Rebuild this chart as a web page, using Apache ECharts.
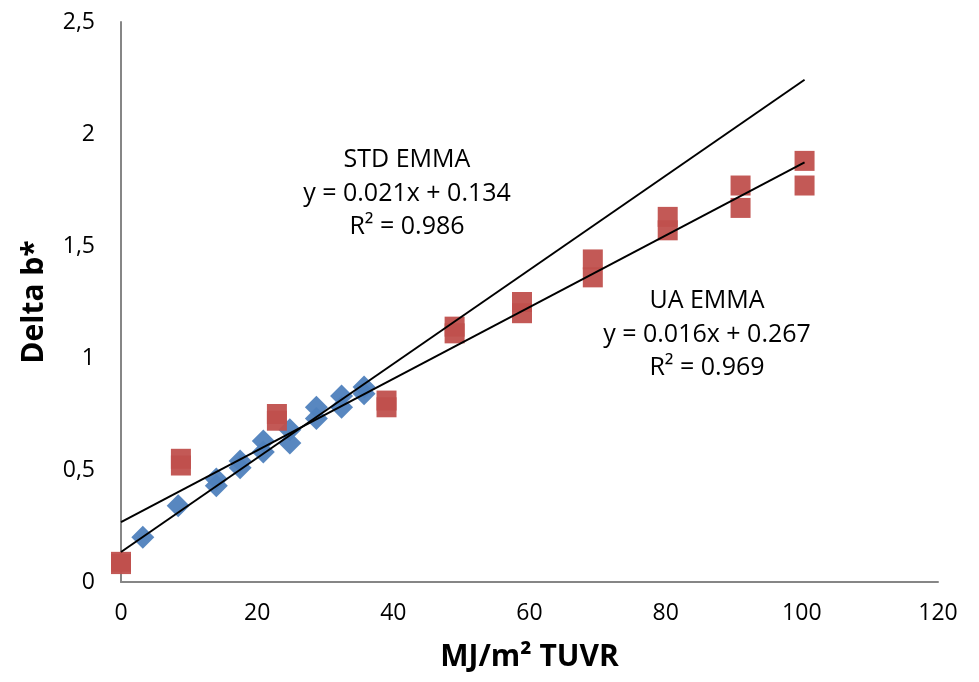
<!DOCTYPE html>
<html>
<head>
<meta charset="utf-8">
<script src="https://cdn.jsdelivr.net/npm/echarts@6/dist/echarts.min.js"></script>
<style>
  html, body { margin: 0; padding: 0; background: #fff; }
  #chart { width: 979px; height: 682px; }
</style>
</head>
<body>
<div id="chart"></div>
<script>
// STD EMMA (blue diamonds)
const stdX = [3.2, 8.4, 14.0, 14.0, 17.5, 17.5, 20.9, 20.9, 24.8, 24.8, 28.7, 28.7, 32.4, 32.4, 35.7, 35.7];
const stdY = [0.20, 0.34, 0.46, 0.43, 0.54, 0.51, 0.63, 0.58, 0.68, 0.62, 0.78, 0.73, 0.83, 0.78, 0.87, 0.84];

// UA EMMA (red squares)
const uaX = [0, 0, 8.8, 8.8, 22.9, 22.9, 39.0, 39.0, 49.0, 49.0, 58.9, 58.9, 69.3, 69.3, 80.3, 80.3, 91.0, 91.0, 100.4, 100.4];
const uaY = [0.09, 0.08, 0.55, 0.52, 0.75, 0.72, 0.81, 0.78, 1.14, 1.11, 1.25, 1.20, 1.44, 1.36, 1.63, 1.57, 1.77, 1.67, 1.88, 1.77];

// linear trend lines: [slope, intercept], drawn across trendRange
const stdFit = [0.021, 0.134];
const uaFit = [0.016, 0.267];
const trendRange = [0, 100.4];

const stdLabel = ['STD EMMA', 'y = 0.021x + 0.134', 'R² = 0.986'];
const uaLabel = ['UA EMMA', 'y = 0.016x + 0.267', 'R² = 0.969'];

const xTicks = [0, 20, 40, 60, 80, 100, 120];
const yTicks = [0, 0.5, 1, 1.5, 2, 2.5];

function pairs(xs, ys) {
  return xs.map(function (x, i) { return [x, ys[i]]; });
}
function trend(fit) {
  return trendRange.map(function (x) { return [x, fit[0] * x + fit[1]]; });
}

const font = '"Open Sans", "Noto Sans", sans-serif';

// block of centred text lines for the trend labels
function labelBlock(lines, cx, cy) {
  return lines.map(function (t, i) {
    return {
      type: 'text',
      x: cx,
      y: cy + i * 33.5,
      z: 10,
      style: { text: t, align: 'center', verticalAlign: 'middle', font: '25px ' + font, fill: '#000' }
    };
  });
}

const chart = echarts.init(document.getElementById('chart'));

chart.setOption({
  backgroundColor: '#fff',
  animation: false,
  textStyle: { fontFamily: font },
  grid: { left: 121, top: 22, right: 41, bottom: 100 },
  xAxis: {
    type: 'value',
    min: xTicks[0],
    max: xTicks[xTicks.length - 1],
    interval: 20,
    name: 'MJ/m² TUVR',
    nameLocation: 'middle',
    nameGap: 60,
    nameTextStyle: { fontSize: 30, fontWeight: 'bold', color: '#000', fontFamily: font },
    axisLine: { lineStyle: { color: '#868686', width: 2 } },
    axisTick: { show: false },
    splitLine: { show: false },
    axisLabel: { fontSize: 23, color: '#000', margin: 20, fontFamily: font }
  },
  yAxis: {
    type: 'value',
    min: yTicks[0],
    max: yTicks[yTicks.length - 1],
    interval: 0.5,
    name: 'Delta b*',
    nameLocation: 'middle',
    nameGap: 72,
    nameTextStyle: { fontSize: 30, fontWeight: 'bold', color: '#000', fontFamily: font },
    axisLine: { show: true, lineStyle: { color: '#868686', width: 2 } },
    axisTick: { show: false },
    splitLine: { show: false },
    axisLabel: {
      fontSize: 23, color: '#000', margin: 26, fontFamily: font,
      formatter: function (v) { return String(v).replace('.', ','); }
    }
  },
  series: [
    {
      name: 'STD EMMA',
      type: 'scatter',
      symbol: 'diamond',
      symbolSize: [23, 23],
      itemStyle: { color: '#4F81BD', opacity: 0.95 },
      data: pairs(stdX, stdY),
      z: 2
    },
    {
      name: 'UA EMMA',
      type: 'scatter',
      symbol: 'rect',
      symbolSize: [20, 20],
      itemStyle: { color: '#C0504D', opacity: 0.95 },
      data: pairs(uaX, uaY),
      z: 3
    },
    {
      type: 'line',
      data: trend(stdFit),
      showSymbol: false,
      lineStyle: { color: '#000', width: 2 },
      z: 4,
      silent: true
    },
    {
      type: 'line',
      data: trend(uaFit),
      showSymbol: false,
      lineStyle: { color: '#000', width: 2 },
      z: 4,
      silent: true
    }
  ],
  graphic: labelBlock(stdLabel, 407, 160).concat(labelBlock(uaLabel, 707, 301))
});
</script>
</body>
</html>
